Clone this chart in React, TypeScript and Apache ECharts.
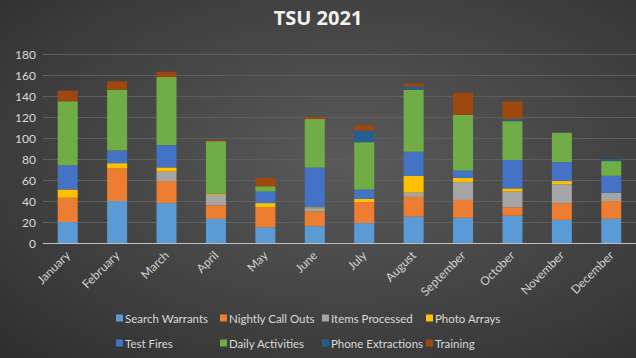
import React, { useEffect, useRef } from "react";
import * as echarts from "echarts";

const months = ["January", "February", "March", "April", "May", "June", "July", "August", "September", "October", "November", "December"];
const searchWarrants = [20, 40, 38, 23, 15, 16, 19, 25, 24, 26, 22, 23];
const nightlyCallOuts = [23, 31, 21, 13, 19, 14, 20, 19, 17, 8, 16, 17];
const itemsProcessed = [0, 0, 9, 10, 0, 3, 0, 4, 17, 15, 18, 8];
const photoArrays = [8, 5, 4, 1, 4, 1, 3, 16, 4, 3, 3, 0];
const testFires = [23, 12, 21, 0, 11, 38, 9, 23, 7, 27, 18, 16];
const dailyActivities = [61, 58, 65, 50, 5, 46, 45, 59, 53, 37, 28, 14];
const phoneExtractions = [0, 0, 0, 0, 0, 0, 11, 3, 0, 2, 0, 2];
const training = [10, 8, 5, 1, 8, 2, 5, 3, 21, 17, 0, 0];

const seriesNames = ["Search Warrants", "Nightly Call Outs", "Items Processed", "Photo Arrays", "Test Fires", "Daily Activities", "Phone Extractions", "Training"];
const seriesData = [searchWarrants, nightlyCallOuts, itemsProcessed, photoArrays, testFires, dailyActivities, phoneExtractions, training];
const colors = ["#5B9BD5", "#ED7D31", "#A5A5A5", "#FFC000", "#4472C4", "#70AD47", "#255E91", "#9E480E"];

const FONT = "Lato, 'Open Sans', sans-serif";
const legendCols = [111, 215, 317, 421];
const legendRows = [307, 332];

export default function App() {
  const ref = useRef<HTMLDivElement>(null);
  useEffect(() => {
    document.body.style.margin = "0";
    const chart = echarts.init(ref.current!, null, { renderer: "svg" });
    const legendText = { color: "#d9d9d9", fontSize: 11.5, fontFamily: FONT, padding: [0, 0, 0, -3] };
    chart.setOption({
      animation: false,
      backgroundColor: "transparent",
      color: colors,
      title: {
        text: "TSU 2021",
        left: "center",
        top: 2,
        textStyle: { color: "#f2f2f2", fontSize: 20, fontWeight: "bold", fontFamily: "'Open Sans', sans-serif" },
      },
      legend: seriesNames.map((name, i) => ({
        data: [name],
        left: legendCols[i % 4],
        top: legendRows[Math.floor(i / 4)],
        itemWidth: 7,
        itemHeight: 7,
        icon: "rect",
        textStyle: legendText,
      })),
      grid: { left: 43, top: 54, width: 601, height: 189, containLabel: false },
      xAxis: {
        type: "category",
        data: months,
        axisLine: { lineStyle: { color: "#bfbfbf", width: 1 } },
        axisTick: { show: false },
        axisLabel: { rotate: 45, color: "#d0d0d0", fontSize: 12, fontFamily: FONT, margin: 10 },
      },
      yAxis: {
        type: "value",
        min: 0,
        max: 180,
        interval: 20,
        axisLine: { show: false },
        axisTick: { show: false },
        splitLine: { lineStyle: { color: "#5e5e5e", width: 1 } },
        axisLabel: { color: "#d9d9d9", fontSize: 12, fontFamily: FONT, margin: 7 },
      },
      series: seriesNames.map((name, i) => ({
        name,
        type: "bar",
        stack: "total",
        barWidth: 20,
        data: seriesData[i],
        itemStyle: { color: colors[i] },
      })),
    });
    return () => chart.dispose();
  }, []);
  return (
    <div
      style={{
        width: 636,
        height: 358,
        background: "radial-gradient(ellipse at 55% 45%, #5a5a5a 0%, #474747 45%, #2e2e2e 100%)",
      }}
    >
      <div ref={ref} style={{ width: 636, height: 358 }} />
    </div>
  );
}
